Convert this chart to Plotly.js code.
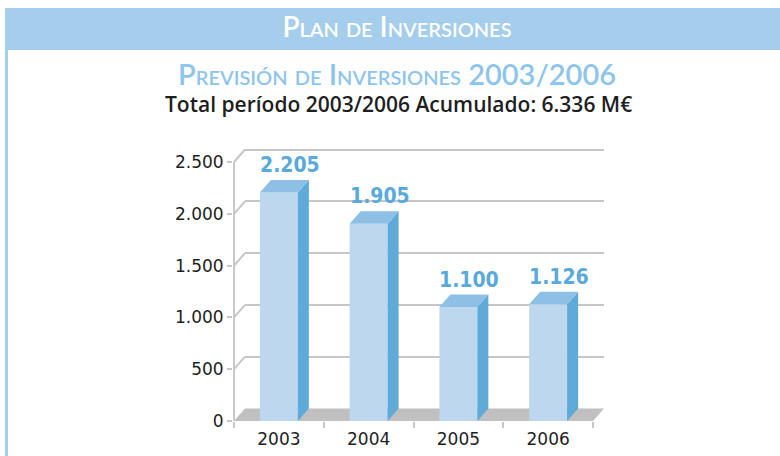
<!DOCTYPE html>
<html>
<head>
<meta charset="utf-8">
<script src="https://cdn.plot.ly/plotly-3.0.1.min.js"></script>
<style>html,body{margin:0;padding:0;background:#fff;}#chart{width:780px;height:456px;}</style>
</head>
<body>
<div id="chart"></div>
<script>
// ---- data ----
const years = ['2003', '2004', '2005', '2006'];
const inversiones = [2205, 1905, 1100, 1126];
const yTicks = [0, 500, 1000, 1500, 2000, 2500];
const headerTitle = 'Plan de Inversiones';
const subTitle = 'Previsión de Inversiones 2003/2006';
const totalLabel = 'Total período 2003/2006 Acumulado:';
const unit = 'M€';

// ---- styling / geometry ----
const W = 780, H = 456;
const pxPerCat = 89.75;            // px per category
const pxPerUnit = 259 / 2500;      // px per value unit
const frontZero = 421;
const depthPx = [11, 12.5];
const dx = depthPx[0] / pxPerCat;  // depth in category units
const dy = depthPx[1] / pxPerUnit; // depth in value units
const barW = 0.423;
const cFront = '#bdd7ee', cSide = '#5eaad9', cTop = '#8ebfe4';
const cGrid = '#c6c6c6', cFloor = '#c0c0c0';
const labelBlue = '#5aa9dc';

function fmt(v) { return String(v).replace(/\B(?=(\d{3})+(?!\d))/g, '.'); }

const total = inversiones.reduce((a, b) => a + b, 0);

// axes ranges
const x2Range = [-0.51, 3.5 + dx + 0.08];
const y2Range = [0, 2650];
const frontEdgePx = 234 - 0.01 * pxPerCat; // px position of x=-0.51
const x2Dom = [frontEdgePx / W, (frontEdgePx + (x2Range[1] - x2Range[0]) * pxPerCat) / W];
const y2Dom = [1 - frontZero / H, 1 - (frontZero - y2Range[1] * pxPerUnit) / H];

const backZero = frontZero - depthPx[1];
const backLeft = 234 + depthPx[0];
const y1Range = [0, 2550];
const y1Dom = [1 - backZero / H, 1 - (backZero - y1Range[1] * pxPerUnit) / H];
const x1Dom = [backLeft / W, (backLeft + 4 * pxPerCat) / W];

const xs = years.map((_, i) => i);
const traces = [];

// back wall subplot (grid only)
traces.push({ type: 'scatter', x: [], y: [], xaxis: 'x', yaxis: 'y', hoverinfo: 'skip', showlegend: false });

// front faces: real bar trace
traces.push({
  type: 'bar', x: xs, y: inversiones, width: barW,
  xaxis: 'x2', yaxis: 'y2',
  marker: { color: cFront, line: { width: 0 } },
  hoverinfo: 'skip', showlegend: false
});

// side and top faces
inversiones.forEach((v, i) => {
  const l = i - barW / 2, r = i + barW / 2;
  traces.push({
    type: 'scatter', mode: 'lines', fill: 'toself', fillcolor: cSide,
    x: [r, r + dx, r + dx, r, r], y: [0, dy, v + dy, v, 0],
    xaxis: 'x2', yaxis: 'y2', line: { width: 0, color: cSide },
    hoverinfo: 'skip', showlegend: false
  });
  traces.push({
    type: 'scatter', mode: 'lines', fill: 'toself', fillcolor: cTop,
    x: [l, r, r + dx, l + dx, l], y: [v, v, v + dy, v + dy, v],
    xaxis: 'x2', yaxis: 'y2', line: { width: 0, color: cTop },
    hoverinfo: 'skip', showlegend: false
  });
});

// front axis line + diagonals from front ticks to back wall
const lx = [-0.5, -0.5, null], ly = [0, yTicks[yTicks.length - 1], null];
yTicks.forEach(t => { if (t > 0) { lx.push(-0.5, -0.5 + dx, null); ly.push(t, t + dy, null); } });
traces.push({
  type: 'scatter', mode: 'lines', x: lx, y: ly, xaxis: 'x2', yaxis: 'y2',
  line: { color: cGrid, width: 2 }, hoverinfo: 'skip', showlegend: false, connectgaps: false
});

// boundary tick axis
traces.push({ type: 'scatter', x: [], y: [], xaxis: 'x3', yaxis: 'y2', hoverinfo: 'skip', showlegend: false });

const annotations = [];
inversiones.forEach((v, i) => {
  annotations.push({
    x: i + dx, y: v + dy, xref: 'x2', yref: 'y2', text: fmt(v),
    showarrow: false, xanchor: 'center', yanchor: 'bottom', yshift: 1,
    font: { family: 'Liberation Sans Narrow, DejaVu Sans Condensed, sans-serif', size: 21, weight: 700, color: labelBlue }
  });
});
annotations.push({
  x: 397 / W, y: 1 - 73 / H, xref: 'paper', yref: 'paper', text: subTitle,
  showarrow: false, xanchor: 'center', yanchor: 'middle',
  font: { family: 'Lato, Open Sans, sans-serif', size: 29, weight: 600, color: '#8ec5ec', variant: 'small-caps' }
});
annotations.push({
  x: 398 / W, y: 1 - 104 / H, xref: 'paper', yref: 'paper', text: totalLabel + ' ' + fmt(total) + ' ' + unit,
  showarrow: false, xanchor: 'center', yanchor: 'middle',
  font: { family: 'Open Sans, DejaVu Sans, sans-serif', size: 21, weight: 600, color: '#1e1e1e' }
});

const layout = {
  width: W, height: H,
  margin: { l: 0, r: 0, t: 0, b: 0 },
  paper_bgcolor: '#ffffff', plot_bgcolor: 'rgba(0,0,0,0)',
  separators: ',.',
  showlegend: false,
  title: {
    text: headerTitle, x: 397 / W, y: 1 - 27 / H, xref: 'paper', yref: 'container',
    xanchor: 'center', yanchor: 'middle',
    font: { family: 'Lato, Open Sans, sans-serif', size: 28, weight: 600, color: '#ffffff', variant: 'small-caps' }
  },
  xaxis: { domain: x1Dom, range: [-0.5, 3.5], anchor: 'y', visible: false, fixedrange: true },
  yaxis: {
    domain: y1Dom, range: y1Range, anchor: 'x', tickvals: yTicks, showticklabels: false,
    showgrid: true, gridcolor: cGrid, gridwidth: 2, zeroline: false, showline: false, ticks: '', fixedrange: true
  },
  xaxis2: {
    domain: x2Dom, range: x2Range, anchor: 'y2', tickvals: xs, ticktext: years,
    ticks: '', showgrid: false, zeroline: false, showline: false, ticklabelstandoff: 6,
    tickfont: { family: 'DejaVu Sans, sans-serif', size: 17, color: '#1e1e1e' }, fixedrange: true
  },
  xaxis3: {
    overlaying: 'x2', range: x2Range, anchor: 'y2', tickvals: [-0.5, 0.5, 1.5, 2.5, 3.5],
    ticks: 'outside', ticklen: 6, tickwidth: 2, tickcolor: cGrid, showticklabels: false,
    showgrid: false, zeroline: false, showline: false, fixedrange: true
  },
  yaxis2: {
    domain: y2Dom, range: y2Range, anchor: 'x2', tickvals: yTicks, tickformat: ',d',
    ticks: 'outside', ticklen: 5, tickwidth: 2, tickcolor: cGrid,
    showgrid: false, zeroline: false, showline: false,
    tickfont: { family: 'DejaVu Sans, sans-serif', size: 17, color: '#1e1e1e' }, fixedrange: true
  },
  shapes: [
    { type: 'rect', xref: 'paper', yref: 'paper', x0: 5 / W, x1: 1, y0: 1 - 50 / H, y1: 1 - 8 / H,
      fillcolor: '#a5cdec', line: { width: 0 }, layer: 'below' },
    { type: 'rect', xref: 'paper', yref: 'paper', x0: 5 / W, x1: 8 / W, y0: 0, y1: 1 - 50 / H,
      fillcolor: '#a5cdec', line: { width: 0 }, layer: 'below' },
    { type: 'path', xref: 'x2', yref: 'y2',
      path: `M -0.5,0 L 3.5,0 L ${3.5 + dx},${dy} L ${-0.5 + dx},${dy} Z`,
      fillcolor: cFloor, line: { width: 0 }, layer: 'below' }
  ],
  annotations: annotations
};

Plotly.newPlot('chart', traces, layout, { staticPlot: true, displayModeBar: false });
</script>
</body>
</html>
